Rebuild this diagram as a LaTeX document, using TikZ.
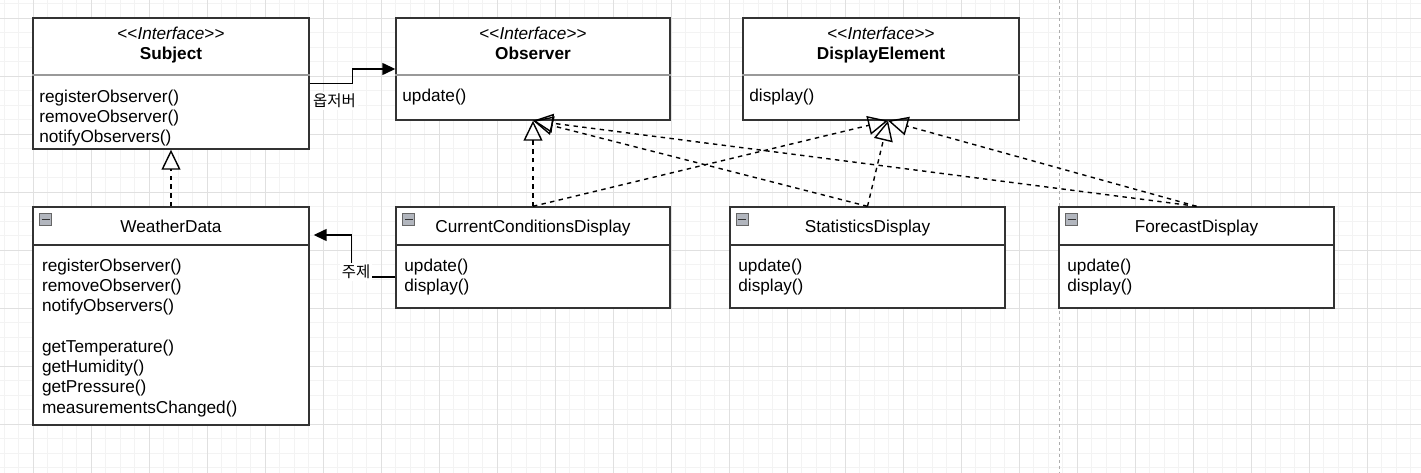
\documentclass[tikz,border=0pt]{standalone}
\usepackage{fontspec}
\setmainfont{Liberation Sans}
\newfontfamily\krfont{Noto Sans CJK KR}
\definecolor{umlstroke}{RGB}{51,51,51}
\definecolor{umlgray}{RGB}{153,153,153}
\definecolor{gridmajor}{RGB}{224,224,224}
\definecolor{gridminor}{RGB}{243,243,243}
\definecolor{iconfill}{RGB}{178,182,190}
\usetikzlibrary{arrows.meta,positioning,calc,fit}

\begin{document}
\begin{tikzpicture}[x=0.02cm,y=-0.02cm,
  font=\fontsize{9.8}{11.5}\selectfont,
  classbox/.style={draw=umlstroke,line width=0.8pt,fill=white,inner sep=0pt},
  headline/.style={draw=umlgray,line width=0.8pt},
  classline/.style={draw=umlstroke,line width=1.1pt},
  methods/.style={anchor=base west,align=left,inner sep=0pt},
  title/.style={anchor=base,inner sep=0pt},
  iconbox/.style={fill=iconfill,draw=gray!80!black,line width=0.5pt},
  iconbar/.style={draw=black!80,line width=1.1pt},
  realize/.style={draw=black,line width=0.8pt,dash pattern=on 2.5pt off 2.5pt,
    -{Triangle[open,length=0.4cm,width=0.38cm]}},
  assoc/.style={draw=black,line width=0.8pt,-{Triangle[length=0.26cm,width=0.24cm]}},
  edgelabel/.style={fill=white,inner sep=1pt,font=\krfont\fontsize{8.8}{10}\selectfont}]
  % Page and background grid
  \useasboundingbox (0,0) rectangle (1421,473);
  \fill[white] (0,0) rectangle (1421,473);
  \foreach \gx in {4.3,18.8,...,1421} \draw[gridminor,line width=0.5pt] (\gx,0) -- (\gx,473);
  \foreach \gy in {3.5,18,...,473} \draw[gridminor,line width=0.5pt] (0,\gy) -- (1421,\gy);
  \foreach \gx in {33.3,91.3,...,1421} \draw[gridmajor,line width=0.5pt] (\gx,0) -- (\gx,473);
  \foreach \gy in {18,76,...,473} \draw[gridmajor,line width=0.5pt] (0,\gy) -- (1421,\gy);
  \draw[umlgray!80,line width=0.5pt,dash pattern=on 1.7pt off 1.7pt] (1059,0) -- (1059,473);
  % Interface boxes
  \node[classbox,fit={(33,18) (309,149)}] (subj) {};
  \node[classbox,fit={(396,18) (670,120)}] (obs) {};
  \node[classbox,fit={(743,18) (1019,120)}] (disp) {};
  \draw[headline] (subj.west |- 0,75) -- (subj.east |- 0,75);
  \draw[headline] (obs.west |- 0,75) -- (obs.east |- 0,75);
  \draw[headline] (disp.west |- 0,75) -- (disp.east |- 0,75);
  \node[title] (subjst) at (171,40) {<{}<\textit{Interface}>{}>};
  \node[title] (subjnm) at (171,60) {\bfseries Subject};
  \node[title] (obsst) at (533,40) {<{}<\textit{Interface}>{}>};
  \node[title] (obsnm) at (533,60) {\bfseries Observer};
  \node[title] (dispst) at (881,40) {<{}<\textit{Interface}>{}>};
  \node[title] (dispnm) at (881,60) {\bfseries DisplayElement};
  % multi-line nodes sit on their last baseline
  \node[methods] (subjops) at (39,143) {registerObserver()\\removeObserver()\\notifyObservers()};
  \node[methods] (obsops) at (402,102) {update()};
  \node[methods] (dispops) at (749,102) {display()};
  % Class boxes
  \node[classbox,fit={(33,207) (309,425)}] (wd) {};
  \node[classbox,fit={(396,207) (670,308)}] (ccd) {};
  \node[classbox,fit={(730,207) (1005,308)}] (stat) {};
  \node[classbox,fit={(1059,207) (1334,308)}] (fcst) {};
  \draw[classline] (wd.west |- 0,245) -- (wd.east |- 0,245);
  \draw[classline] (ccd.west |- 0,245) -- (ccd.east |- 0,245);
  \draw[classline] (stat.west |- 0,245) -- (stat.east |- 0,245);
  \draw[classline] (fcst.west |- 0,245) -- (fcst.east |- 0,245);
  \foreach \ix in {39.5,402.5,736,1065.5} {
    \draw[iconbox] (\ix,213.5) rectangle ++(12,12);
    \draw[iconbar] (\ix+2,219.5) -- ++(8,0);
  }
  \node[title] (wdnm) at (171,233) {WeatherData};
  \node[title] (ccdnm) at (533,233) {CurrentConditionsDisplay};
  \node[title] (statnm) at (867.5,233) {StatisticsDisplay};
  \node[title] (fcstnm) at (1196.5,233) {ForecastDisplay};
  \node[methods] (wdops) at (41.7,413) {registerObserver()\\removeObserver()\\notifyObservers()\\[11.5pt]getTemperature()\\getHumidity()\\getPressure()\\measurementsChanged()};
  \node[methods] (ccdops) at (404,291.3) {update()\\display()};
  \node[methods] (statops) at (738,291.3) {update()\\display()};
  \node[methods] (fcstops) at (1067,291.3) {update()\\display()};
  % Realizations
  \coordinate (dispin) at ($(disp.south)+(7,0)$);
  \draw[realize] (wd.north) -- (subj.south);
  \draw[realize] (ccd.north) -- (obs.south);
  \draw[realize] (stat.north) -- (obs.south);
  \draw[realize] (fcst.north) -- (obs.south);
  \draw[realize] (ccd.north) -- (dispin);
  \draw[realize] (stat.north) -- (dispin);
  \draw[realize] (fcst.north) -- (dispin);
  % Associations
  \draw[assoc] (subj.east) -- ++(43,0) |- (obs.west);
  \draw[assoc,shorten >=0.08cm] (ccd.west |- 0,277) -- ++(-44,0) |- (wd.east |- 0,235);
  \node[edgelabel] (lblobs) at (334.5,101) {옵저버};
  \node[edgelabel] (lblsubj) at (356,272) {주제};
\end{tikzpicture}
\end{document}
